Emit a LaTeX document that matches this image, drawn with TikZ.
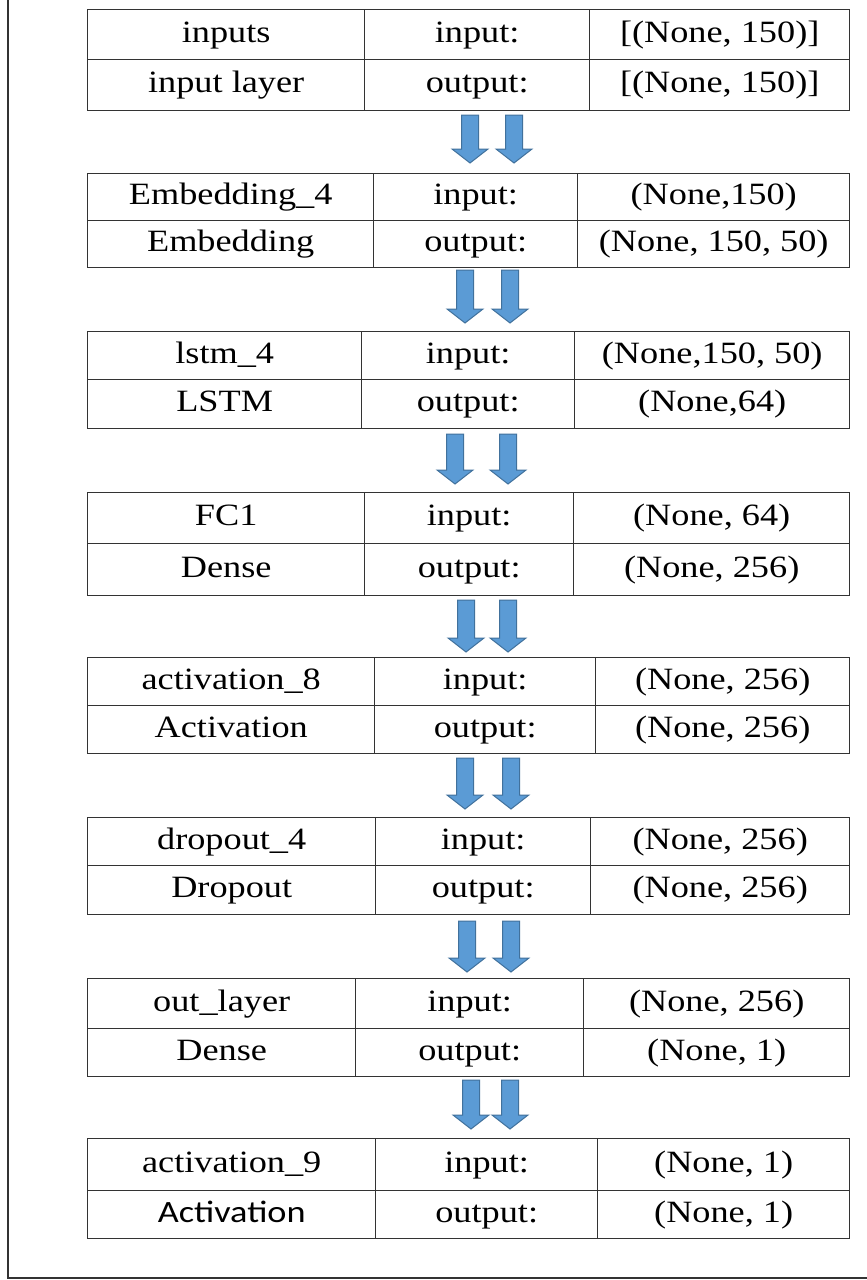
\documentclass[tikz,border=0pt]{standalone}
\usepackage{fontspec}
\usepackage{graphicx}
\setmainfont{Liberation Serif}
\newfontfamily\calib{Carlito}
\definecolor{gridline}{HTML}{333333}
\definecolor{arrowblue}{HTML}{5B9BD5}
\definecolor{arrowedge}{HTML}{41719C}
\newcommand\wide[1]{\scalebox{1.17}[1]{#1}}
\tikzset{
  x=1pt, y=-1pt,
  cell/.style={draw=gridline, line width=1.4pt, inner sep=0pt, anchor=north west,
    text height=22pt, text depth=7pt,
    font=\fontsize{31}{36}\selectfont},
  pics/darrow/.style={code={
    \filldraw[fill=arrowblue, draw=arrowedge, line width=1pt, line join=miter]
      (-8.5,0) -- (8.5,0) -- (8.5,#1-14) -- (18,#1-14) -- (0,#1) -- (-18,#1-14) -- (-8.5,#1-14) -- cycle;}},
  frame/.style={draw=gridline, line width=1.4pt}
}
% row: name, ytop, ybot, col1, col2, text1, text2, text3
\newcommand\trow[8]{%
  \node[cell, minimum width={#4pt-87pt}, minimum height={#3pt-#2pt}] (#1a) at (87,#2) {\wide{#6}};
  \node[cell, minimum width={#5pt-#4pt}, minimum height={#3pt-#2pt}] (#1b) at (#4,#2) {\wide{#7}};
  \node[cell, minimum width={849pt-#5pt}, minimum height={#3pt-#2pt}] (#1c) at (#5,#2) {\wide{#8}};
}
\begin{document}
\begin{tikzpicture}
\useasboundingbox (0,0) rectangle (867,1280);
\clip (0,0) rectangle (867,1280);
\fill[white] (0,0) rectangle (867,1280);
\draw[frame] (8,-20) -- (8,1278) -- (900,1278);

\trow{ta}{9}{59}{364}{589}{inputs}{input:}{[(None, 150)]}
\trow{tb}{59}{110}{364}{589}{input layer}{output:}{[(None, 150)]}

\trow{ua}{173}{220}{373}{577}{Embedding\_4}{input:}{(None,150)}
\trow{ub}{220}{267}{373}{577}{Embedding}{output:}{(None, 150, 50)}

\trow{va}{331}{379}{361}{574}{lstm\_4}{input:}{(None,150, 50)}
\trow{vb}{379}{428}{361}{574}{LSTM}{output:}{(None,64)}

\trow{wa}{492}{543}{364}{573}{FC1}{input:}{(None, 64)}
\trow{wb}{543}{595}{364}{573}{Dense}{output:}{(None, 256)}

\trow{xa}{657}{705}{374}{595}{activation\_8}{input:}{(None, 256)}
\trow{xb}{705}{753}{374}{595}{Activation}{output:}{(None, 256)}

\trow{ya}{817}{865}{375}{590}{dropout\_4}{input:}{(None, 256)}
\trow{yb}{865}{914}{375}{590}{Dropout}{output:}{(None, 256)}

\trow{za}{978}{1028}{355}{583}{out\_layer}{input:}{(None, 256)}
\trow{zb}{1028}{1076}{355}{583}{Dense}{output:}{(None, 1)}

\trow{qa}{1138}{1190}{375}{597}{activation\_9}{input:}{(None, 1)}
\trow{qb}{1190}{1238}{375}{597}{{\calib Activation}}{output:}{(None, 1)}

\pic at (470,115) {darrow=48};  \pic at (514,115) {darrow=48};
\pic at (465,270) {darrow=53};  \pic at (510,270) {darrow=53};
\pic at (455,434) {darrow=50};  \pic at (508,434) {darrow=50};
\pic at (466,600) {darrow=52};  \pic at (508,600) {darrow=52};
\pic at (465,758) {darrow=51};  \pic at (511,758) {darrow=51};
\pic at (467,921) {darrow=51};  \pic at (511,921) {darrow=51};
\pic at (471,1080) {darrow=49}; \pic at (510,1080) {darrow=49};
\end{tikzpicture}
\end{document}
